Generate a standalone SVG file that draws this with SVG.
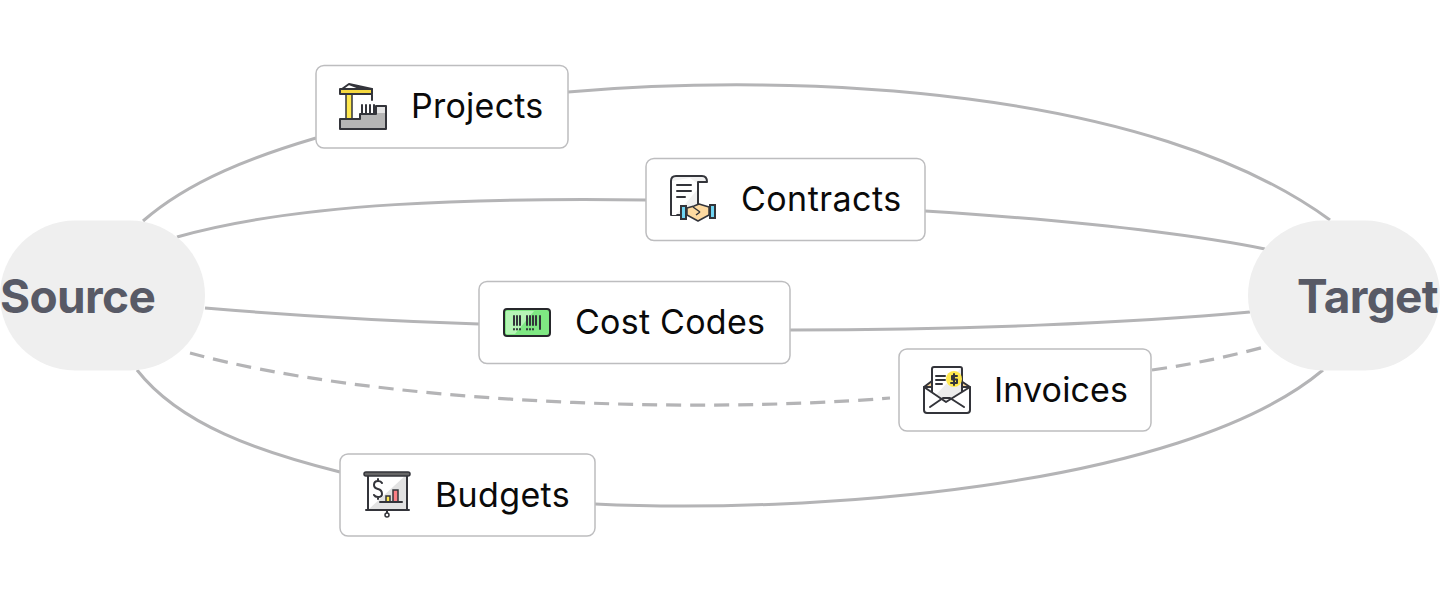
<svg xmlns="http://www.w3.org/2000/svg" width="1440" height="600" viewBox="0 0 1440 600">
<style>
.c{fill:none;stroke:#b4b4b6;stroke-width:3}
.d{stroke-dasharray:15 9;stroke-width:3.2}
.e{fill:#efefef}
.n{fill:#fff;stroke:#bdbdbf;stroke-width:1.5}
.t{font-family:Inter,"Liberation Sans",sans-serif;font-size:34px;fill:#0a0a0a;letter-spacing:.25px}
.h{font-family:Inter,"Liberation Sans",sans-serif;font-size:46px;font-weight:700;fill:#585a66;letter-spacing:-.65px}
.k{stroke:#33343a;stroke-width:2;fill:none;stroke-linecap:round;stroke-linejoin:round}
.kf{stroke:#33343a;stroke-width:2;stroke-linejoin:round}
</style>
<rect width="1440" height="600" fill="#fff"/>
<g id="connectors">
<path class="c" d="M143 221C190 180 255 156 316 138"/>
<path class="c" d="M568 92C800 72 1150 88 1330 220"/>
<path class="c" d="M177 237C300 202 480 198 646 200"/>
<path class="c" d="M925 211C1050 219 1170 230 1265 249"/>
<path class="c" d="M205 308C300 316 390 321 479 324"/>
<path class="c" d="M790 330C960 330 1130 323 1250 312"/>
<path class="c d" d="M190 353C370 402 680 415 890 398"/>
<path class="c d" d="M1152 370C1195 364 1235 355 1268 346"/>
<path class="c" d="M137 370C180 425 260 452 340 472"/>
<path class="c" d="M595 504C800 514 1180 490 1323 370"/>
</g>
<g id="source"><rect class="e" x="0" y="220.500" width="205" height="150" rx="75"/><text class="h" x="0" y="313">Source</text></g>
<g id="target"><rect class="e" x="1248" y="220.500" width="192" height="150" rx="75"/><text class="h" x="1297" y="313">Target</text></g>
<g id="projects"><rect class="n" x="316" y="65.500" width="252" height="82.500" rx="8"/>
<path d="M346 93H352V119H346Z" fill="#ffe84d" stroke="#33343a" stroke-width="1.500"/>
<path d="M340 89H372V94H340Z" fill="#f5d83f" stroke="#33343a" stroke-width="2" stroke-linejoin="round"/>
<path class="k" d="M342 89L349 84L372 89M349 84L362 89"/>
<path d="M340 129V119H360V114H376V106H386V129Z" fill="#b5b5b5" stroke="#33343a" stroke-width="2" stroke-linejoin="round"/>
<path d="M377 107H385V113H377Z" fill="#e4e4e4"/>
<path class="k" d="M362 105V114M366 105V114M370 105V114M374 105V114M372 95V100"/>
<text class="t" x="411" y="118">Projects</text></g>
<g id="contracts"><rect class="n" x="646" y="158.500" width="279" height="82" rx="8"/>
<path d="M671 215V181Q671 176 676 176H702Q707 176 707 182H698V205L690 215Z" fill="#f0f0f0" stroke="#33343a" stroke-width="2" stroke-linejoin="round"/>
<path d="M672 215V181L690 178L697 183V190L676 215Z" fill="#fff"/>
<path class="k" d="M677 185H691M677 191H691M677 197H685"/>
<path d="M681 206H686V219H681ZM710 205H715V218H710Z" fill="#6fd4f2" stroke="#33343a" stroke-width="2"/>
<path d="M687 208L694 206L699 204L709 207V215L698 221L687 215Z" fill="#fdd9a0" stroke="#33343a" stroke-width="1.500" stroke-linejoin="round"/>
<path d="M693 207L700 212M696 215L700 212" stroke="#33343a" stroke-width="1.500" fill="none"/>
<text class="t" x="741" y="211" style="letter-spacing:.45px">Contracts</text></g>
<g id="cost-codes"><rect class="n" x="479" y="281.500" width="311" height="82" rx="8"/>
<rect x="504" y="309" width="46" height="27" rx="3" fill="#7fe883" stroke="#26272b" stroke-width="2"/>
<path d="M506 334V311H534L515 334Z" fill="#b5f5b5"/>
<path class="k" d="M514 316V325M517 316V325M520 316V325M527 316V325M530 316V325M533 316V325M536 316V325M540 316V329M514 329V329.500M517 329V329.500M520 329V329.500M527 329V329.500M530 329V329.500M533 329V329.500"/>
<text class="t" x="575" y="334">Cost Codes</text></g>
<g id="invoices"><rect class="n" x="899" y="349" width="252" height="82" rx="8"/>
<path d="M932 381L924 387H932ZM961 381L970 387H961Z" fill="#f9d69c" stroke="#33343a" stroke-width="2" stroke-linejoin="round"/>
<rect class="kf" x="932" y="367" width="30" height="35" rx="2" fill="#fff"/>
<path d="M933 403V398L961 368V403Z" fill="#ececec"/>
<circle cx="954" cy="379" r="8" fill="#ffe84d"/>
<path class="k" d="M936 376H945M936 380H945M936 384H942"/>
<path class="k" d="M957 376H952V379.500H957V383H951M954 374V385" stroke-width="1.500"/>
<path d="M924 387L946 402L970 387V410Q970 413 967 413H927Q924 413 924 410Z" fill="#fff" stroke="#33343a" stroke-width="2" stroke-linejoin="round"/>
<path class="k" d="M930 407L943 398H950L964 407"/>
<text class="t" x="994" y="402" style="letter-spacing:.15px">Invoices</text></g>
<g id="budgets"><rect class="n" x="340" y="454" width="255" height="82" rx="8"/>
<rect x="368" y="474" width="39" height="36" fill="#fff" stroke="#33343a" stroke-width="2"/>
<path d="M369 509L406 475V509Z" fill="#e2e2e2"/>
<rect x="364" y="472" width="46" height="4" rx="2" fill="#666" stroke="#33343a" stroke-width="1.500"/>
<path class="k" d="M366 510H409M387 510V513"/>
<circle cx="387" cy="515" r="2" fill="#fff" stroke="#33343a" stroke-width="1.500"/>
<path class="k" d="M382 483Q381 481 378 481Q374 481 374 485Q374 488 378 489Q382 490 382 494Q382 497 378 497Q375 497 374 495M378 479V481M378 497V499" stroke-width="1.500"/>
<rect x="386" y="496" width="4" height="6" fill="#ffe84d" stroke="#33343a" stroke-width="1.500"/>
<rect x="393" y="490" width="5" height="12" fill="#fb7f85" stroke="#33343a" stroke-width="1.500"/>
<path class="k" d="M380 502H402"/>
<text class="t" x="435" y="507" style="letter-spacing:.35px">Budgets</text></g>
</svg>
